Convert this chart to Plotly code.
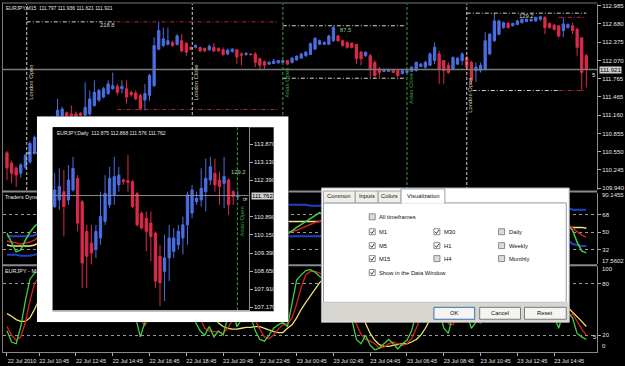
import plotly.graph_objects as go

W, H = 625, 366
FONT = "Liberation Sans"


def fx(px):
    return px / W


def fy(py):
    return 1 - py / H


# ---------------- M15 price data (bar index 0 = 22 Jul 09:00) ----------------
m15_open = [110.53, 110.36, 110.28, 110.19, 110.29, 110.38, 110.53, 110.75, 110.95, 110.85,
            111.00, 111.05, 111.10, 111.20, 111.18, 111.18, 111.19, 111.16, 111.18, 111.32,
            111.41, 111.46, 111.52, 111.60, 111.64, 111.60, 111.60, 111.54, 111.53, 111.49,
            111.41, 111.49, 111.65, 112.26, 112.32, 112.34, 112.37, 112.34, 112.40, 112.36,
            112.29, 112.29, 112.29, 112.27, 112.25, 112.29, 112.27, 112.25, 112.18, 112.22,
            112.25, 112.18, 112.17, 112.18, 112.18, 112.10, 112.05, 112.01, 112.02, 112.03,
            112.04, 112.07, 112.04, 112.08, 112.11, 112.15, 112.17, 112.26, 112.34, 112.34,
            112.34, 112.40, 112.48, 112.40, 112.37, 112.36, 112.34, 112.21, 112.15, 112.15,
            112.04, 111.93, 111.89, 111.89, 111.92, 111.90, 111.85, 111.87, 111.89, 111.90,
            111.97, 111.96, 111.99, 112.07, 112.18, 112.07, 111.99, 111.93, 112.01, 112.07,
            112.12, 112.04, 111.90, 111.90, 111.93, 112.18, 112.40, 112.51, 112.62, 112.69,
            112.65, 112.67, 112.70, 112.72, 112.73, 112.73, 112.76, 112.79, 112.69, 112.66,
            112.65, 112.57, 112.62, 112.65, 112.59, 112.45, 112.15]
m15_high = [110.56, 110.40, 110.30, 110.36, 110.52, 110.72, 110.82, 111.00, 110.98, 111.05,
            111.15, 111.43, 111.30, 111.22, 111.32, 111.22, 111.21, 111.71, 111.57, 111.74,
            111.60, 111.63, 111.74, 111.87, 111.68, 111.74, 111.74, 111.57, 111.57, 111.52,
            111.68, 111.85, 112.46, 112.715, 112.62, 112.62, 112.40, 112.51, 112.51, 112.37,
            112.31, 112.34, 112.30, 112.29, 112.34, 112.36, 112.29, 112.29, 112.27, 112.28,
            112.26, 112.21, 112.21, 112.19, 112.21, 112.12, 112.07, 112.06, 112.10, 112.08,
            112.08, 112.08, 112.13, 112.16, 112.20, 112.23, 112.37, 112.46, 112.42, 112.39,
            112.50, 112.65, 112.50, 112.42, 112.39, 112.37, 112.35, 112.23, 112.22, 112.18,
            112.07, 111.96, 111.94, 111.94, 111.93, 111.93, 111.91, 111.92, 111.97, 112.05,
            112.03, 112.07, 112.21, 112.37, 112.23, 112.07, 112.04, 112.14, 112.13, 112.21,
            112.15, 112.07, 112.04, 112.04, 112.54, 112.53, 112.86, 112.75, 112.72, 112.71,
            112.70, 112.75, 112.77, 112.77, 112.77, 112.80, 112.81, 112.81, 112.70, 112.68,
            112.66, 112.79, 112.69, 112.70, 112.62, 112.45, 112.18]
m15_low = [110.08, 110.03, 109.96, 110.12, 110.26, 110.35, 110.50, 110.70, 110.80, 110.82,
           110.97, 111.00, 111.05, 110.98, 111.10, 111.08, 111.10, 111.12, 111.15, 111.30,
           111.38, 111.44, 111.50, 111.58, 111.49, 111.52, 111.35, 111.47, 111.41, 111.24,
           111.24, 111.40, 111.63, 112.24, 112.29, 112.32, 112.30, 112.32, 112.21, 112.15,
           112.24, 112.27, 112.21, 112.21, 112.23, 112.21, 112.22, 112.15, 112.16, 112.20,
           112.01, 111.99, 112.15, 112.15, 111.96, 111.93, 111.93, 112.00, 112.01, 112.02,
           112.03, 112.00, 112.02, 112.07, 112.10, 112.13, 112.16, 112.25, 112.33, 112.33,
           112.33, 112.38, 112.38, 112.30, 112.27, 112.27, 112.01, 111.99, 112.13, 111.79,
           111.775, 111.79, 111.88, 111.88, 111.86, 111.79, 111.84, 111.86, 111.88, 111.89,
           111.96, 111.93, 111.98, 112.01, 111.68, 111.68, 111.85, 111.91, 112.00, 111.99,
           111.94, 111.68, 111.71, 111.87, 111.90, 112.16, 112.38, 112.49, 112.60, 112.60,
           112.64, 112.66, 112.69, 112.71, 112.72, 112.72, 112.73, 112.51, 112.60, 112.57,
           112.45, 112.46, 112.60, 112.51, 112.15, 111.57, 111.62]
m15_close = [110.28, 110.19, 110.16, 110.33, 110.49, 110.69, 110.79, 110.95, 110.85, 111.02,
             111.12, 111.24, 111.26, 111.05, 111.15, 111.14, 111.16, 111.29, 111.43, 111.54,
             111.57, 111.60, 111.68, 111.65, 111.54, 111.64, 111.46, 111.50, 111.43, 111.27,
             111.52, 111.82, 112.32, 112.57, 112.43, 112.40, 112.32, 112.48, 112.23, 112.21,
             112.26, 112.32, 112.23, 112.23, 112.31, 112.23, 112.23, 112.17, 112.24, 112.26,
             112.13, 112.16, 112.19, 112.17, 112.04, 111.99, 111.99, 112.04, 112.06, 112.07,
             112.07, 112.01, 112.11, 112.14, 112.18, 112.21, 112.35, 112.44, 112.40, 112.37,
             112.48, 112.62, 112.40, 112.32, 112.29, 112.29, 112.10, 112.10, 112.21, 111.93,
             111.82, 111.87, 111.92, 111.92, 111.87, 111.82, 111.90, 111.90, 111.96, 112.04,
             112.01, 112.04, 112.18, 112.29, 111.93, 111.90, 111.87, 112.12, 112.11, 112.18,
             111.96, 111.74, 111.96, 111.99, 112.40, 112.51, 112.73, 112.73, 112.70, 112.62,
             112.69, 112.73, 112.76, 112.76, 112.76, 112.79, 112.80, 112.62, 112.62, 112.59,
             112.48, 112.68, 112.67, 112.57, 112.29, 111.87, 111.92]

price_ticks = [112.985, 112.680, 112.375, 112.070, 111.765, 111.465, 111.160,
               110.855, 110.550, 110.245, 109.940]
current_price = 111.921

time_tick_bars = [0, 7, 15, 23, 31, 39, 47, 55, 63, 71, 79, 87, 95, 103, 111, 119]
time_tick_text = ["22 Jul 2010", "22 Jul 10:45", "22 Jul 12:45", "22 Jul 14:45",
                  "22 Jul 16:45", "22 Jul 18:45", "22 Jul 20:45", "22 Jul 22:45",
                  "23 Jul 00:45", "23 Jul 02:45", "23 Jul 04:45", "23 Jul 06:45",
                  "23 Jul 08:45", "23 Jul 10:45", "23 Jul 12:45", "23 Jul 14:45"]

# session markers (bar position, label, colour key)
session_bars = [4.3, 40.3, 60.0, 87.0, 100.0]
session_names = ["London Open", "London Close", "Asian Open", "Asian Close", "London Open"]
session_kind = ["ldn", "ldn", "asia", "asia", "ldn"]

# session range segments: start bar, end bar, price, colour key
seg_start = [4.3, 23.8, 4.3, 24.0, 60.0, 60.0, 100.0, 120.0, 101.3, 120.0]
seg_end = [23.8, 59.1, 59.1, 59.1, 86.8, 86.8, 126.0, 126.0, 120.0, 126.0]
seg_price = [112.715, 112.715, 110.527, 111.254, 112.65, 111.775, 112.86, 112.79, 111.57, 111.57]
seg_kind = ["w", "r", "w", "r", "w", "w", "w", "r", "w", "r"]
range_labels = ["218.8", "87.5", "129.2"]

# ---------------- Traders Dynamic Index ----------------
tdi_green = [49, 40, 30, 32, 42, 50, 56, 60, 57, 62, 65,
             66, 67, 62, 61, 60, 61, 64, 67, 68, 69, 71, 70, 65, 67, 60, 61, 58, 52, 50, 58, 66,
             80, 85, 82, 81, 78, 80, 70, 67,
             66, 67, 63, 62, 64, 61, 60, 57, 59, 60, 54, 55, 56, 55, 48, 45, 45, 47, 48, 49, 50, 48,
             52, 55, 58, 61, 64, 67, 70,
             67, 71, 76, 70, 64, 62, 61, 52, 50, 54, 44, 40, 42, 44, 45, 43, 41, 45, 46,
             50, 55, 54, 56, 62, 66,
             52, 50, 48, 57, 57, 60, 52, 43, 48, 50,
             66, 70, 76, 76, 74, 70, 72, 74, 76, 76, 77, 78, 79,
             66, 64, 62, 56, 62, 57, 52, 40, 31, 29]
tdi_red = [41, 40, 39, 38, 39, 40, 42, 46, 50, 54, 58,
           61, 63, 64, 64, 63, 62, 62, 63, 64, 66, 67, 68, 68, 68, 66, 65, 62, 59, 56, 55, 57,
           62, 68, 74, 78, 80, 80, 78, 75,
           72, 70, 68, 66, 65, 64, 62, 61, 60, 60, 58, 57, 56, 56, 54, 52, 51, 50, 50, 50, 50,
           50, 51, 52, 54, 56, 58, 60, 61,
           63, 65, 67, 68, 67, 66, 64, 62, 59, 57, 54, 51, 48, 46, 45, 44, 43, 43, 44,
           45, 47, 49, 51, 54, 57,
           57, 56, 55, 55, 55, 56, 55, 52, 50, 50,
           54, 58, 63, 67, 70, 72, 73, 74, 74, 75, 76, 76, 77,
           75, 72, 69, 65, 63, 58, 54, 50, 47, 45]
tdi_yellow = [37, 36, 36, 36, 36, 36, 37, 39, 42, 45, 48,
              51, 54, 56, 58, 59, 60, 60, 61, 62, 63, 64, 65, 65, 65, 65, 64, 63, 62, 61, 60, 60,
              62, 64, 66, 68, 70, 71, 72, 72,
              71, 70, 69, 68, 67, 66, 65, 64, 63, 62, 61, 60, 59, 58, 57, 56, 56, 57, 58, 59, 60,
              61, 61, 61, 61, 61, 61, 61, 61,
              62, 63, 63, 63, 62, 61, 60, 58, 57, 55, 53, 51, 49, 48, 47, 46, 45, 45, 45,
              46, 47, 48, 49, 50, 51,
              52, 52, 52, 52, 52, 53, 53, 53, 52, 52,
              53, 54, 56, 58, 60, 62, 64, 65, 66, 67, 68, 69, 70,
              70, 69, 67, 64, 60, 56, 55, 55, 55, 54]
tdi_upper = [46, 46, 46, 46, 46, 46, 47, 50, 55, 60, 65,
             68, 70, 72, 73, 74, 75, 75, 76, 76, 77, 77, 77, 77, 77, 76, 76, 76, 75, 75, 76, 77,
             80, 83, 85, 86, 87, 88, 88, 87,
             86, 85, 84, 83, 82, 82, 81, 80, 80, 79, 79, 78, 78, 78, 78, 78, 78, 78, 78, 78, 78,
             78, 78, 78, 78, 78, 77, 77, 77,
             77, 78, 79, 79, 79, 79, 78, 77, 76, 75, 74, 72, 70, 68, 66, 64, 62, 60, 59,
             59, 60, 61, 62, 64, 66,
             66, 66, 65, 65, 65, 65, 64, 63, 63, 63,
             65, 67, 71, 75, 78, 80, 81, 82, 82, 83, 83, 83, 83,
             82, 81, 80, 79, 77, 75, 73, 73, 73, 73]
tdi_lower = [27, 27, 27, 26, 26, 26, 27, 28, 30, 32, 35,
             38, 40, 42, 44, 46, 47, 48, 48, 49, 50, 51, 52, 53, 53, 54, 53, 52, 50, 48, 46, 45,
             44, 45, 46, 48, 50, 52, 54, 55,
             56, 56, 55, 54, 53, 52, 51, 50, 49, 48, 47, 46, 45, 44, 43, 42, 42, 43, 44, 45, 46,
             46, 46, 46, 46, 46, 46, 46, 46,
             47, 47, 47, 47, 46, 45, 44, 42, 40, 38, 35, 32, 30, 29, 28, 28, 28, 29, 30,
             31, 32, 33, 34, 35, 36,
             37, 38, 39, 40, 40, 41, 41, 41, 40, 40,
             40, 39, 39, 40, 42, 44, 46, 48, 50, 52, 53, 54, 55,
             55, 54, 52, 50, 46, 42, 38, 37, 36, 36]
tdi_levels = [68, 50, 32]
tdi_min, tdi_max = 17.5602, 90.1455

# ---------------- lower oscillator ----------------
st_green = [25, 12, 10, 30, 60, 85, 92, 95, 90, 92, 94,
            95, 93, 80, 70, 65, 60, 75, 85, 88, 90, 92, 93, 85, 80, 78, 65, 60,
            40, 18, 35, 70,
            95, 97, 92, 90, 88, 90, 75, 60,
            45, 35, 25, 20, 30, 18, 25, 20, 40, 50, 30, 38, 45, 42, 25, 15, 13, 20, 28, 32, 35, 30,
            55, 84, 90, 95, 96, 93, 88, 85, 92, 97, 80, 60, 45, 38, 15, 10, 20, 8, 3, 5,
            10, 15, 10, 4, 10, 14, 25, 45, 50, 58, 78, 90, 50, 28, 22, 45, 55, 65, 45, 28,
            35, 40, 80, 90, 96, 95, 92, 85, 86, 90, 93, 94, 94, 96, 97, 60, 50, 42, 28, 48,
            46, 40, 22, 18, 15]
st_red = [30, 20, 14, 18, 35, 60, 80, 88, 90, 91, 92,
          93, 93, 88, 80, 72, 65, 67, 73, 83, 88, 90, 92, 90, 86, 81, 74, 68,
          55, 38, 31, 41,
          67, 87, 95, 93, 90, 89, 84, 75,
          62, 50, 38, 28, 25, 24, 24, 22, 28, 37, 40, 39, 38, 42, 37, 27, 18, 16, 20, 27, 32, 33,
          40, 56, 76, 90, 94, 94, 92, 89, 88, 91, 89, 79, 62, 48, 33, 21, 15, 13, 10, 5,
          6, 10, 12, 10, 8, 10, 16, 28, 40, 51, 62, 75, 73, 56, 33, 32, 41, 55, 55, 46,
          36, 34, 52, 70, 89, 94, 94, 91, 88, 87, 90, 92, 94, 95, 96, 84, 69, 51, 40, 39,
          41, 45, 36, 27, 20]
st_yellow = [45, 42, 38, 36, 36, 40, 50, 62, 75, 85, 90,
             92, 92, 90, 86, 80, 75, 72, 72, 75, 80, 85, 88, 89, 88, 86, 82, 76,
             68, 58, 48, 45,
             50, 62, 75, 85, 90, 91, 89, 85,
             78, 70, 62, 54, 47, 40, 34, 30, 28, 27, 27, 28, 29, 29, 30, 30, 28, 26, 24, 23, 23, 28,
             32, 40, 50, 58, 66, 74, 81, 86, 89, 90, 90, 88, 82, 72, 60, 45, 33, 22, 14, 9,
             7, 7, 8, 9, 10, 10, 12, 15, 20, 28, 38, 50, 60, 64, 60, 50, 42, 40, 42, 45,
             46, 44, 42, 48, 58, 70, 80, 87, 90, 90, 89, 89, 90, 92, 93, 92, 88, 80, 70, 60,
             52, 47, 42, 36, 30]
st_levels = [80, 20]

# ---------------- Daily chart (inset) ----------------
d_open = [111.31, 111.58, 111.92, 111.58, 111.99, 112.47, 111.51, 110.29, 109.81, 109.54,
          110.02, 110.70, 111.38, 111.79, 112.20, 112.40, 112.37, 112.33, 111.85, 111.04,
          110.83, 110.63, 110.22, 109.27, 108.65, 109.20, 109.47, 109.74, 110.02, 110.56,
          111.04, 111.51, 111.58, 111.92, 112.40, 112.67, 112.40, 112.26, 112.40, 111.92, 111.70]
d_high = [112.67, 112.88, 112.81, 113.01, 113.35, 112.60, 111.58, 110.56, 110.56, 110.56,
          111.92, 112.60, 112.94, 113.35, 112.94, 112.47, 113.42, 112.40, 111.92, 111.11,
          111.11, 111.11, 110.29, 109.74, 110.15, 110.56, 110.43, 110.56, 110.90, 111.92,
          112.20, 111.92, 112.88, 113.28, 113.35, 113.28, 112.74, 113.35, 112.47, 111.99, 111.95]
d_low = [111.24, 111.17, 110.08, 111.38, 111.92, 110.29, 107.97, 107.97, 108.93, 109.20,
         109.74, 110.56, 111.24, 111.38, 111.92, 112.20, 111.92, 111.24, 110.49, 110.36,
         109.47, 109.06, 107.97, 107.22, 107.43, 108.25, 109.20, 109.54, 109.34, 109.74,
         110.83, 111.38, 111.31, 111.11, 112.20, 111.92, 111.38, 111.24, 110.97, 111.38, 111.58]
d_close = [111.99, 112.13, 111.31, 112.40, 112.88, 110.63, 108.99, 109.27, 109.40, 110.29,
           110.90, 111.85, 112.47, 112.54, 112.60, 112.33, 112.30, 111.31, 110.56, 110.43,
           110.29, 110.08, 108.25, 108.18, 109.20, 110.02, 110.02, 110.29, 110.56, 111.79,
           111.99, 111.65, 112.06, 112.47, 112.94, 112.20, 112.13, 112.54, 111.38, 111.72, 111.762]
daily_ticks = [113.870, 113.130, 112.390, 110.890, 110.150, 109.390, 108.650, 107.910, 107.170]
daily_current = 111.762
daily_asian_open_bar = 39.9

# ---------------- dialog content ----------------
tab_names = ["Common", "Inputs", "Colors", "Visualization"]
cb_labels = ["All timeframes", "M1", "M30", "Daily", "M5", "H1", "Weekly",
             "M15", "H4", "Monthly", "Show in the Data Window"]
cb_checked = [False, True, True, False, True, True, False, True, False, False, True]
button_names = ["OK", "Cancel", "Reset"]

# ---------------- styling ----------------
BLUE = "#4a6fe3"
RED = "#dc2a4a"
TXT = "#e6e6e6"
GRID = "#9a9a9a"
LDN = "#d8d0b8"
ASIA = "#3fa040"
SEGC = {"w": "#d8d4c4", "r": "#b02a3a"}

fig = go.Figure()
bars = list(range(len(m15_open)))
XR = [-0.87, 128.35]
P_RANGE = [109.912, 113.013]

fig.add_trace(go.Candlestick(
    x=bars, open=m15_open, high=m15_high, low=m15_low, close=m15_close,
    xaxis="x", yaxis="y", whiskerwidth=0,
    increasing=dict(line=dict(color=BLUE, width=1), fillcolor=BLUE),
    decreasing=dict(line=dict(color=RED, width=1), fillcolor=RED),
    hoverinfo="skip", showlegend=False))

# current price line
fig.add_trace(go.Scatter(x=XR, y=[current_price, current_price], mode="lines",
                         line=dict(color="#7a7a7a", width=1.5), xaxis="x", yaxis="y",
                         hoverinfo="skip", showlegend=False))

# session range lines
for a, b, p, k in zip(seg_start, seg_end, seg_price, seg_kind):
    fig.add_trace(go.Scatter(x=[a, b], y=[p, p], mode="lines",
                             line=dict(color=SEGC[k], width=1, dash="4px,2px,1px,2px"),
                             xaxis="x", yaxis="y", hoverinfo="skip", showlegend=False))

# session vertical lines
for xb, kind in zip(session_bars, session_kind):
    fig.add_trace(go.Scatter(x=[xb, xb], y=P_RANGE, mode="lines",
                             line=dict(color=LDN if kind == "ldn" else ASIA, width=1, dash="3px,2px"),
                             xaxis="x", yaxis="y", hoverinfo="skip", showlegend=False))

# TDI panel
for vals, col, wd in [(tdi_upper, "#2040c8", 2), (tdi_lower, "#2040c8", 2),
                      (tdi_yellow, "#f2ea8a", 1.5), (tdi_red, "#d02020", 1.5),
                      (tdi_green, "#40d040", 1.5)]:
    fig.add_trace(go.Scatter(x=bars, y=vals, mode="lines", line=dict(color=col, width=wd),
                             xaxis="x2", yaxis="y2", hoverinfo="skip", showlegend=False))
fig.add_trace(go.Scatter(x=[-0.45], y=[85.0], mode="text", text=["Traders Dynamic Index"],
                         textposition="middle right", textfont=dict(family=FONT, size=5.5, color=TXT),
                         xaxis="x2", yaxis="y2", hoverinfo="skip", showlegend=False))

# oscillator panel
for vals, col in [(st_yellow, "#f0e070"), (st_red, "#d82020"), (st_green, "#40d040")]:
    fig.add_trace(go.Scatter(x=bars, y=vals, mode="lines", line=dict(color=col, width=1.3),
                             xaxis="x3", yaxis="y3", hoverinfo="skip", showlegend=False))
fig.add_trace(go.Scatter(x=[-0.45], y=[93.5], mode="text", text=["EURJPY - M15"],
                         textposition="middle right", textfont=dict(family=FONT, size=5.5, color=TXT),
                         xaxis="x3", yaxis="y3", hoverinfo="skip", showlegend=False))

# inset frame (white picture border with black chart area)
fig.add_trace(go.Scatter(x=[0, 1, 1, 0, 0], y=[0, 0, 1, 1, 0], mode="lines", fill="toself",
                         fillcolor="#ffffff", line=dict(width=0, color="#ffffff"),
                         xaxis="x4", yaxis="y4", hoverinfo="skip", showlegend=False))
ix0, ix1 = (53 - 37) / 253, (275 - 37) / 253
iy0, iy1 = (323 - 312) / 207, (323 - 127) / 207
fig.add_trace(go.Scatter(x=[ix0, ix1, ix1, ix0, ix0], y=[iy0, iy0, iy1, iy1, iy0], mode="lines",
                         fill="toself", fillcolor="#000000", line=dict(width=0, color="#000000"),
                         xaxis="x4", yaxis="y4", hoverinfo="skip", showlegend=False))

# daily inset
dbars = list(range(len(d_open)))
DXR = [-0.43, 42.4]
DYR = [107.05, 114.564]
fig.add_trace(go.Scatter(x=DXR, y=[daily_current, daily_current], mode="lines",
                         line=dict(color="#8a8a8a", width=1), xaxis="x5", yaxis="y5",
                         hoverinfo="skip", showlegend=False))
fig.add_trace(go.Candlestick(
    x=dbars, open=d_open, high=d_high, low=d_low, close=d_close,
    xaxis="x5", yaxis="y5", whiskerwidth=0,
    increasing=dict(line=dict(color=BLUE, width=1), fillcolor=BLUE),
    decreasing=dict(line=dict(color=RED, width=1), fillcolor=RED),
    hoverinfo="skip", showlegend=False))
fig.add_trace(go.Scatter(x=[daily_asian_open_bar] * 2, y=DYR, mode="lines",
                         line=dict(color=ASIA, width=1, dash="3px,2px"),
                         xaxis="x5", yaxis="y5", hoverinfo="skip", showlegend=False))

# ---------------- axes ----------------
axfont = dict(family=FONT, size=6, color=TXT)
common_x = dict(range=XR, showgrid=False, zeroline=False, fixedrange=True)
common_y = dict(side="right", showgrid=False, zeroline=False, ticks="outside", ticklen=3,
                tickcolor="#b0b0b0", tickfont=axfont, showline=True, linecolor="#8a8a8a",
                linewidth=1, fixedrange=True)

layout = dict(
    width=W, height=H, margin=dict(l=0, r=0, t=0, b=0),
    paper_bgcolor="#000000", plot_bgcolor="#000000", showlegend=False, hovermode=False,
    xaxis=dict(domain=[fx(3), fx(600)], anchor="y", showticklabels=False,
               rangeslider=dict(visible=False), **common_x),
    yaxis=dict(domain=[fy(190), fy(3)], anchor="x", range=P_RANGE, tickvals=price_ticks,
               tickformat=".3f", **common_y),
    xaxis2=dict(domain=[fx(3), fx(600)], anchor="y2", showticklabels=False, **common_x),
    yaxis2=dict(domain=[fy(264.5), fy(193)], anchor="x2", range=[tdi_min, tdi_max],
                tickvals=tdi_levels, **{k: v for k, v in common_y.items() if k != "showgrid"},
                showgrid=True, gridcolor=GRID, griddash="dot", gridwidth=1),
    xaxis3=dict(domain=[fx(3), fx(600)], anchor="y3", tickvals=time_tick_bars,
                ticktext=time_tick_text, ticks="outside", ticklen=3, tickcolor="#b0b0b0",
                tickfont=dict(family=FONT, size=5.5, color=TXT), ticklabelshift=15,
                showline=True, linecolor="#8a8a8a", **common_x),
    yaxis3=dict(domain=[fy(353.3), fy(266.7)], anchor="x3", range=[0, 100],
                tickvals=st_levels, **{k: v for k, v in common_y.items() if k != "showgrid"},
                showgrid=True, gridcolor=GRID, griddash="dot", gridwidth=1),
    xaxis4=dict(domain=[fx(37), fx(290)], anchor="y4", range=[0, 1], visible=False, fixedrange=True),
    yaxis4=dict(domain=[fy(323), fy(116)], anchor="x4", range=[0, 1], visible=False, fixedrange=True),
    xaxis5=dict(domain=[fx(53), fx(250)], anchor="y5", range=DXR, showgrid=False, zeroline=False,
                showticklabels=False, showline=True, linecolor="#b0b0b0",
                rangeslider=dict(visible=False), fixedrange=True),
    yaxis5=dict(domain=[fy(311), fy(127)], anchor="x5", range=DYR, tickvals=daily_ticks,
                tickformat=".3f", **common_y),
)
fig.update_layout(**layout)

# ---------------- decorations ----------------
shapes = []


def rect(x0, y0, x1, y1, fill, line=None, lw=1, layer="above"):
    return dict(type="rect", xref="paper", yref="paper", x0=fx(x0), x1=fx(x1), y0=fy(y1), y1=fy(y0),
                fillcolor=fill, line=dict(color=line or fill, width=lw if line else 0), layer=layer)


def hline(x0, x1, y, color, w=1, layer="below"):
    return dict(type="line", xref="paper", yref="paper", x0=fx(x0), x1=fx(x1), y0=fy(y), y1=fy(y),
                line=dict(color=color, width=w), layer=layer)


# chart frame and panel separators
shapes.append(hline(2, 600, 2, "#7a7a7a"))
shapes.append(dict(type="line", xref="paper", yref="paper", x0=fx(2.5), x1=fx(2.5), y0=fy(354), y1=fy(2),
                   line=dict(color="#7a7a7a", width=1), layer="below"))
shapes.append(hline(2, 600, 191.5, "#8a8a8a", 2))
shapes.append(hline(2, 600, 265.6, "#8a8a8a", 2))

# dialog
shapes.append(rect(323, 188, 572, 323, "#ffffff", "#a8a8a8"))
shapes.append(rect(325, 203, 569, 303, "#ffffff", "#8c9aa8"))
shapes.append(rect(323.5, 303, 571.5, 322.5, "#d8d6d0"))
tab_x = [(325, 357), (357, 380), (380, 403), (403, 447)]
annotations = []


def ann(x, y, text, size=6, color=TXT, xanchor="left", yanchor="middle", angle=0, bg=None):
    d = dict(x=fx(x), y=fy(y), xref="paper", yref="paper", text=text, showarrow=False,
             font=dict(family=FONT, size=size, color=color), xanchor=xanchor, yanchor=yanchor,
             textangle=angle, borderpad=0)
    if bg:
        d["bgcolor"] = bg
    return d


for (a, b), name in zip(tab_x, tab_names):
    active = name == "Visualization"
    shapes.append(rect(a, 189 if active else 191, b, 203.5 if active else 203,
                       "#ffffff" if active else "#efefe8", "#98a4ae"))
    annotations.append(ann((a + b) / 2, 196.5, name, size=5.8, color="#101010", xanchor="center"))
shapes.append(hline(403.6, 446.4, 203, "#ffffff", 1.5, layer="above"))

cb_pos = [(371, 214), (371, 229), (436, 229), (501, 229), (371, 243), (436, 243), (501, 243),
          (371, 256), (436, 256), (501, 256), (371, 270)]
for (l, t), lab, chk in zip(cb_pos, cb_labels, cb_checked):
    shapes.append(rect(l, t, l + 6, t + 6, "#ffffff" if chk else "#dcdcdc", "#8a8a8a"))
    if chk:
        path = (f"M {fx(l + 1.2)},{fy(t + 3)} L {fx(l + 2.6)},{fy(t + 4.8)} "
                f"L {fx(l + 5)},{fy(t + 1.2)}")
        shapes.append(dict(type="path", xref="paper", yref="paper", path=path,
                           line=dict(color="#3a3a5a", width=1), layer="above"))
    annotations.append(ann(l + 9, t + 3, lab, size=5.8, color="#101010"))

btn_x = [(436, 477), (482, 523), (527, 569)]
for (a, b), name in zip(btn_x, button_names):
    shapes.append(rect(a, 308, b, 320, "#f4f4f2", "#3c6fa8" if name == "OK" else "#7a7a7a"))
    annotations.append(ann((a + b) / 2, 314, name, size=5.8, color="#101010", xanchor="center"))

# main chart texts
annotations.append(ann(5, 7, "EURJPY,M15  111.797 111.936 111.621 111.921", size=5))
for xb, name, kind in zip(session_bars, session_names, session_kind):
    px = 7 + 4.62 * xb
    ymid = 82 if xb < 80 else (88 if name == "Asian Close" else 95)
    annotations.append(ann(px + 3.5, ymid, name, size=5.8, color=LDN if kind == "ldn" else ASIA,
                           xanchor="center", angle=-90))
annotations.append(ann(108, 24.5, range_labels[0], size=5.8, color="#d8d4c4", xanchor="center"))
annotations.append(ann(347, 29, range_labels[1], size=5.8, color="#8fcf8f", xanchor="center"))
annotations.append(ann(529, 15, range_labels[2], size=5.8, color="#d8d4b0", xanchor="center"))
annotations.append(ann(601.5, 69, f"{current_price:.3f}", size=6, color="#000000", bg="#d0d0d0"))
annotations.append(ann(597, 74, "5", size=6, color=TXT, xanchor="center"))

# indicator axis extremes
annotations.append(ann(603.5, 195.5, f"{tdi_max:.4f}", size=6))
annotations.append(ann(603.5, 261.5, f"{tdi_min:.4f}", size=6))
annotations.append(ann(603.5, 269.5, "100", size=6))
annotations.append(ann(603.5, 347, "0", size=6))
annotations.append(ann(598, 338, "5", size=6, color=TXT, xanchor="center"))

# daily inset texts
annotations.append(ann(56, 133, "EURJPY,Daily  112.875 112.868 111.576 111.762", size=5))
annotations.append(ann(240, 172, "129.2", size=5.8, color="#a8d0a0", xanchor="center"))
annotations.append(ann(243, 222, "Asian Open", size=5.8, color=ASIA, xanchor="center", angle=-90))
annotations.append(ann(246.5, 200, "8", size=6, color=TXT, xanchor="center", angle=90))
annotations.append(ann(252, 196, f"{daily_current:.3f}", size=6, color="#000000", bg="#d0d0d0"))

fig.update_layout(shapes=shapes, annotations=annotations)
fig.write_html("out.html")
